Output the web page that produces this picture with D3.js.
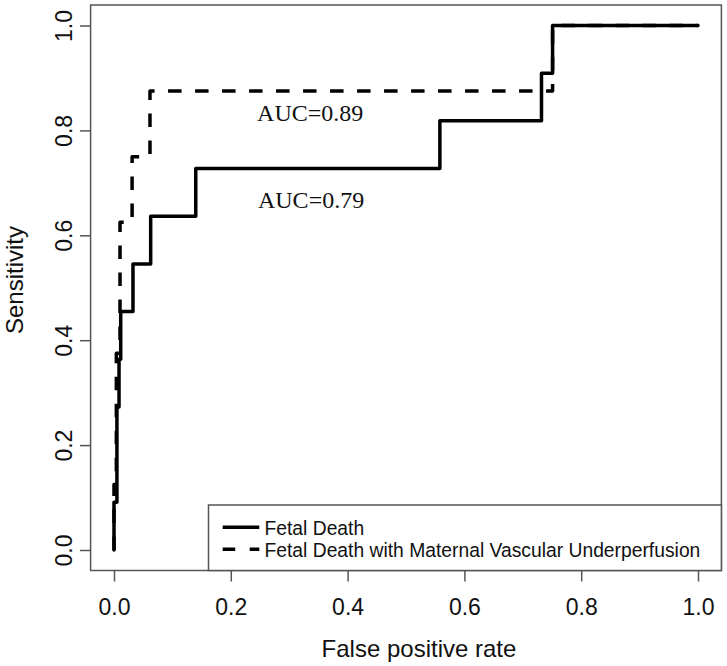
<!DOCTYPE html>
<html>
<head>
<meta charset="utf-8">
<script src="https://cdn.jsdelivr.net/npm/d3@7"></script>
<style>
  html, body { margin: 0; padding: 0; background: #fff; }
  svg { display: block; }
</style>
</head>
<body>
<svg id="chart" width="727" height="666"></svg>
<script>
// ---- data ----
const fdFpr  = [0, 0, 0.005, 0.005, 0.0086, 0.0086, 0.0115, 0.0115, 0.0325, 0.0325, 0.0628, 0.0628, 0.140, 0.140, 0.558, 0.558, 0.732, 0.732, 0.751, 0.751, 1];
const fdSens = [0, 0.0909, 0.0909, 0.2727, 0.2727, 0.3636, 0.3636, 0.4545, 0.4545, 0.5455, 0.5455, 0.6364, 0.6364, 0.7273, 0.7273, 0.8182, 0.8182, 0.9091, 0.9091, 1, 1];

const mvuFpr  = [0, 0, 0.004, 0.004, 0.0103, 0.0103, 0.031, 0.031, 0.0616, 0.0616, 0.751, 0.751, 1];
const mvuSens = [0, 0.125, 0.125, 0.375, 0.375, 0.625, 0.625, 0.75, 0.75, 0.875, 0.875, 1, 1];

const xTicks = [0, 0.2, 0.4, 0.6, 0.8, 1.0];
const yTicks = [0, 0.2, 0.4, 0.6, 0.8, 1.0];
const legendLabels = ["Fetal Death", "Fetal Death with Maternal Vascular Underperfusion"];
const aucLabels = ["AUC=0.89", "AUC=0.79"];
const aucX = [0.245, 0.2465];
const aucY = [0.8185, 0.6515];

// ---- layout ----
const svg = d3.select("#chart");
const x = d3.scaleLinear().domain([0, 1]).range([114, 698]);
const y = d3.scaleLinear().domain([0, 1]).range([550, 25.5]);
const box = { x0: 90.6, x1: 721.4, y0: 5, y1: 570.5 };
const axisColor = "#555";

// curves
const line = d3.line().x(d => x(d[0])).y(d => y(d[1]));
const fd = fdFpr.map((v, i) => [v, fdSens[i]]);
const mvu = mvuFpr.map((v, i) => [v, mvuSens[i]]);

svg.append("path").datum(mvu).attr("d", line)
  .attr("fill", "none").attr("stroke", "#000").attr("stroke-width", 3.5)
  .attr("stroke-dasharray", "13.5,13.5").attr("stroke-linejoin", "round");
svg.append("path").datum(fd).attr("d", line)
  .attr("fill", "none").attr("stroke", "#000").attr("stroke-width", 3.5)
  .attr("stroke-linejoin", "round").attr("stroke-linecap", "round");

// box
svg.append("rect").attr("x", box.x0).attr("y", box.y0)
  .attr("width", box.x1 - box.x0).attr("height", box.y1 - box.y0)
  .attr("fill", "none").attr("stroke", axisColor).attr("stroke-width", 1.5);

// x axis
const gx = svg.append("g").attr("transform", `translate(0,${box.y1})`)
  .call(d3.axisBottom(x).tickValues(xTicks).tickFormat(d3.format(".1f")).tickSize(11).tickSizeOuter(0));
gx.select(".domain").remove();
gx.selectAll(".tick line").attr("stroke", axisColor).attr("stroke-width", 1.5);
gx.selectAll(".tick text").attr("y", 44.5).attr("dy", 0)
  .attr("font-family", "Liberation Sans, Arial, sans-serif").attr("font-size", 23).attr("fill", "#111");

// y axis
const gy = svg.append("g").attr("transform", `translate(${box.x0},0)`)
  .call(d3.axisLeft(y).tickValues(yTicks).tickFormat(d3.format(".1f")).tickSize(10.6).tickSizeOuter(0));
gy.select(".domain").remove();
gy.selectAll(".tick line").attr("stroke", axisColor).attr("stroke-width", 1.5);
gy.selectAll(".tick text").attr("x", 0).attr("y", 0).attr("dy", 0)
  .attr("text-anchor", "middle")
  .attr("transform", "translate(-18.8,0) rotate(-90)")
  .attr("font-family", "Liberation Sans, Arial, sans-serif").attr("font-size", 23).attr("fill", "#111");

// axis titles
svg.append("text").attr("x", 419).attr("y", 656.5).attr("text-anchor", "middle")
  .attr("font-family", "Liberation Sans, Arial, sans-serif").attr("font-size", 24).attr("fill", "#111")
  .text("False positive rate");
svg.append("text").attr("transform", "translate(23,280) rotate(-90)").attr("text-anchor", "middle")
  .attr("font-family", "Liberation Sans, Arial, sans-serif").attr("font-size", 24).attr("fill", "#111")
  .text("Sensitivity");

// AUC labels
svg.selectAll("text.auc").data(aucLabels).enter().append("text").attr("class", "auc")
  .attr("x", (d, i) => x(aucX[i])).attr("y", (d, i) => y(aucY[i]))
  .attr("font-family", "Liberation Serif, Times New Roman, serif").attr("font-size", 24).attr("fill", "#111")
  .text(d => d);

// legend
const leg = svg.append("g");
leg.append("rect").attr("x", 208.5).attr("y", 505).attr("width", box.x1 - 208.5).attr("height", box.y1 - 505)
  .attr("fill", "#fff").attr("stroke", axisColor).attr("stroke-width", 1.5);
const rowY = [527.3, 549.3];
legendLabels.forEach((lab, i) => {
  leg.append("line").attr("x1", 222.7).attr("x2", 259.3).attr("y1", rowY[i]).attr("y2", rowY[i])
    .attr("stroke", "#000").attr("stroke-width", 3.5)
    .attr("stroke-dasharray", i === 1 ? "12.5,14.5" : null);
  leg.append("text").attr("x", 264.5).attr("y", rowY[i] + 7.2)
    .attr("font-family", "Liberation Sans, Arial, sans-serif").attr("font-size", 19.3).attr("fill", "#111")
    .text(lab);
});
</script>
</body>
</html>
